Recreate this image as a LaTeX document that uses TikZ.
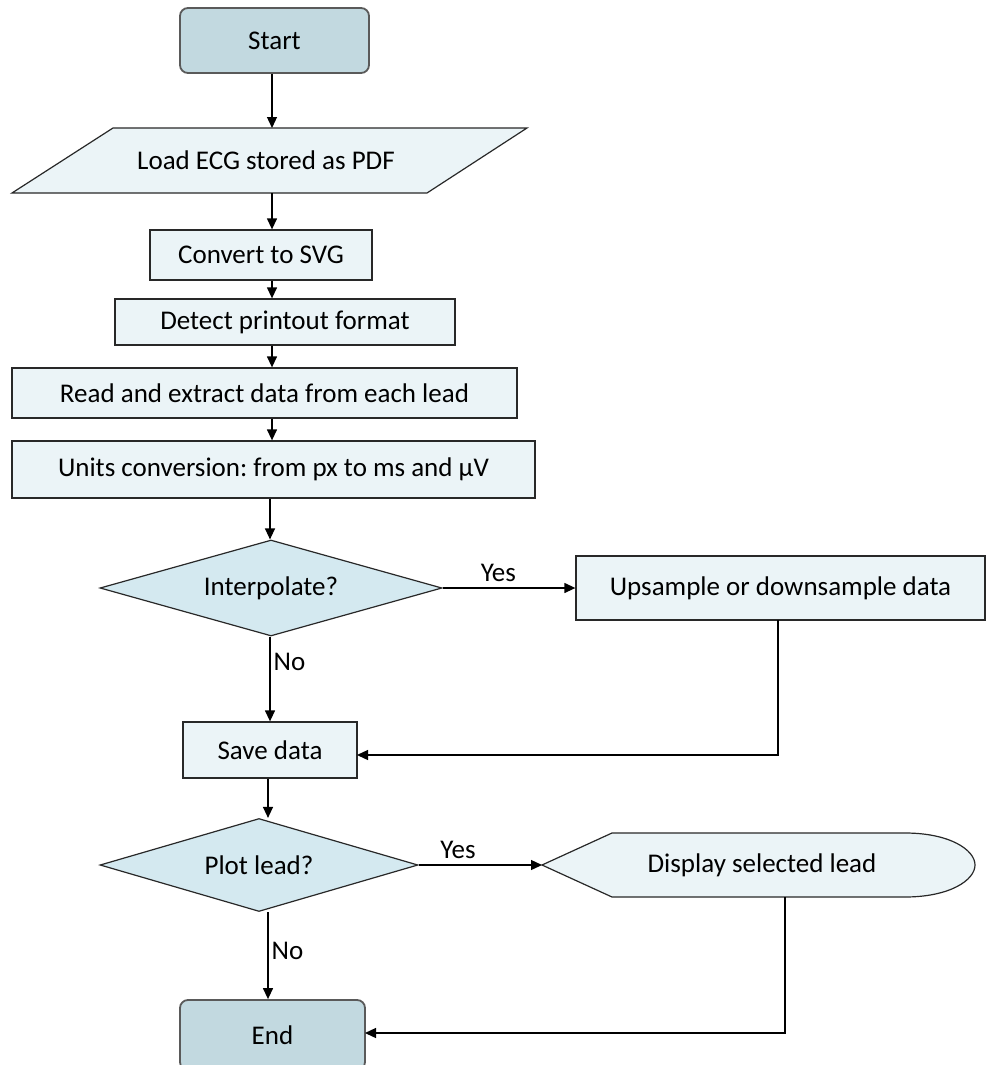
\documentclass[tikz,border=0pt]{standalone}
\usepackage{fontspec}
\setmainfont{Carlito}
\usetikzlibrary{shapes.geometric,arrows.meta}
\definecolor{termfill}{RGB}{194,217,224}
\definecolor{decfill}{RGB}{212,233,240}
\definecolor{procfill}{RGB}{235,244,247}
\definecolor{termline}{RGB}{90,90,90}
\definecolor{boxline}{RGB}{40,40,40}
\frenchspacing
\begin{document}
\begin{tikzpicture}[x=1pt,y=-1pt,
  every node/.style={font=\fontsize{27}{32}\selectfont, inner sep=0pt},
  terminal/.style={draw=termline, line width=1.8pt, fill=termfill, rounded corners=8pt},
  process/.style={draw=boxline, line width=1.3pt, fill=procfill},
  decision/.style={draw=boxline, line width=1.2pt, fill=decfill, diamond, aspect=3.5},
  io/.style={draw=boxline, line width=1.2pt, fill=procfill},
  arr/.style={draw=black, line width=1.3pt, -{Triangle[length=11pt,width=10pt]}},
  lbl/.style={font=\fontsize{27}{32}\selectfont}
]
\useasboundingbox (0,0) rectangle (1003,1065);
\fill[white] (0,0) rectangle (1003,1065);

% x positions of the vertical flow
\coordinate (xa) at (272,0);
\coordinate (xb) at (270,0);
\coordinate (xc) at (268,0);

% Start
\node[terminal, minimum width=189pt, minimum height=65pt] (start) at (274.5,40.5) {Start};

% Load (parallelogram)
\path[io] (113,128) -- (527,128) -- (427,193) -- (12,193) -- cycle;
\node (load) at (266,160.5) {Load ECG stored as PDF};
\coordinate (loadN) at (272,128);
\coordinate (loadS) at (272,193);

% Process boxes
\node[process, minimum width=222pt, minimum height=50pt] (conv) at (261,255) {Convert to SVG};
\node[process, minimum width=340pt, minimum height=46pt] (det) at (285,322) {Detect printout format};
\node[process, minimum width=505pt, minimum height=50pt] (read) at (264.5,393) {Read and extract data from each lead};
\node[process, minimum width=523pt, minimum height=57pt] (units) at (273.5,469.5) {Units conversion: from px to ms and µV};

% Interpolate decision
\node[decision, minimum width=342pt, minimum height=96pt] (interp) at (271,588) {Interpolate?};
\node[process, minimum width=409pt, minimum height=64pt] (up) at (780.5,588) {Upsample or downsample data};

% Save
\node[process, minimum width=174pt, minimum height=56pt] (save) at (270,750) {Save data};

% Plot decision
\node[decision, minimum width=318pt, minimum height=93pt] (plot) at (259,865) {Plot lead?};

% Display shape
\path[io] (542,865) -- (612,833) -- (905,833)
  .. controls (950,833) and (975,850) .. (975,865)
  .. controls (975,880) and (950,897) .. (905,897)
  -- (612,897) -- cycle;
\node (disp) at (762,865) {Display selected lead};
\coordinate (dispW) at (542,865);
\coordinate (dispS) at (785,897);

% End
\node[terminal, minimum width=185pt, minimum height=70pt] (end) at (272.5,1035) {End};

% Connectors
\draw[arr] (start.south -| xa) -- (loadN);
\draw[arr] (loadS) -- (conv.north -| xa);
\draw[arr] (conv.south -| xa) -- (det.north -| xa);
\draw[arr] (det.south -| xa) -- (read.north -| xa);
\draw[arr] (read.south -| xa) -- (units.north -| xa);
\draw[arr] (units.south -| xb) -- (interp.north -| xb);
\draw[arr] (interp.east) -- node[lbl, above=6pt, pos=0.42] {Yes} (up.west);
\draw[arr] (interp.south -| xb) -- node[lbl, right=3pt, pos=0.3] {No} (save.north -| xb);
\coordinate (upS) at (778,620);
\coordinate (saveE) at (357,755);
\draw[arr] (upS) |- (saveE);
\draw[arr] (save.south -| xc) -- (plot.north -| xc);
\draw[arr] (plot.east) -- node[lbl, above=6pt, pos=0.32] {Yes} (dispW);
\draw[arr] (plot.south -| xc) -- node[lbl, right=3pt, pos=0.45] {No} (end.north -| xc);
\coordinate (endE) at (365,1033);
\draw[arr] (dispS) |- (endE);
\end{tikzpicture}
\end{document}
